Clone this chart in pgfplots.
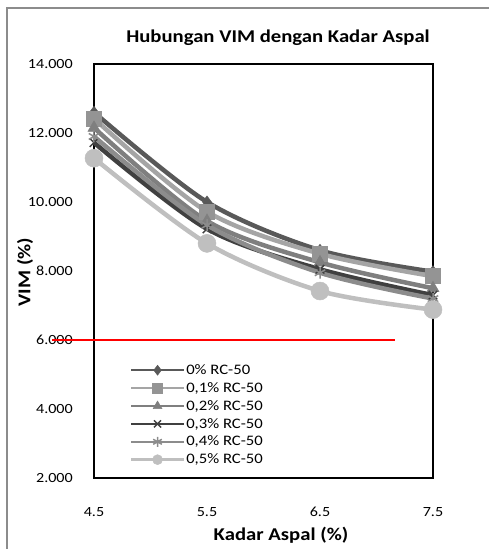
\documentclass[border=0pt]{standalone}
\usepackage{fontspec}
\setmainfont{Carlito}[FakeStretch=1.15]
\usepackage{pgfplots}
\pgfplotsset{compat=1.18}
\definecolor{bordergray}{HTML}{8C8C8C}
\definecolor{c0}{HTML}{595959}
\definecolor{c1}{HTML}{A5A5A5}
\definecolor{c2}{HTML}{7F7F7F}
\definecolor{c3}{HTML}{404040}
\definecolor{c4}{HTML}{8C8C8C}
\definecolor{c5}{HTML}{BFBFBF}
\begin{document}
\begin{tikzpicture}[x=1pt,y=1pt]
\useasboundingbox (0,0) rectangle (489,549);
\draw[color=bordergray, line width=2pt] (7,-10) -- (7,541) -- (500,541);
\node[font=\fontsize{18}{21}\selectfont\bfseries] at (278,511) {Hubungan VIM dengan Kadar Aspal};
\node[font=\fontsize{18}{21}\selectfont\bfseries] at (281,14) {Kadar Aspal (\%)};
\node[font=\fontsize{18}{21}\selectfont\bfseries, rotate=90] at (25,277) {VIM (\%)};
\begin{axis}[
  at={(94pt,71pt)}, anchor=south west,
  scale only axis, width=339pt, height=414pt,
  xmin=4.5, xmax=7.5, ymin=2, ymax=14,
  xtick={4.5,5.5,6.5,7.5}, ytick={2,4,6,8,10,12,14},
  major tick length=0pt,
  axis line style={black, line width=1.2pt},
  clip=false,
  /pgf/number format/assume math mode=true,
  tick label style={font=\fontsize{14}{17}\selectfont, inner sep=0pt},
  xticklabel style={anchor=center, yshift=-34pt, /pgf/number format/.cd, fixed, fixed zerofill, precision=1},
  yticklabel style={anchor=east, xshift=-21pt, /pgf/number format/.cd, fixed, fixed zerofill, precision=3, 1000 sep={}},
  legend style={at={(axis description cs:0.105,0.277)}, anchor=north west, draw=none, fill=none,
    font=\fontsize{14.5}{17}\selectfont, row sep=4.5pt, inner sep=0pt,
    nodes={inner sep=1pt}},
  legend cell align=left,
  legend image code/.code={\draw[#1, line width=2.5pt, mark size=5pt, mark repeat=2, mark phase=2] plot coordinates {(0pt,0pt) (26.5pt,0pt) (53pt,0pt)};},
]
\addplot[red, line width=1.2pt, forget plot] coordinates {(4.13,6) (7.16,6)};
\addplot[c0, line width=4.5pt, smooth, mark=diamond*, mark size=6pt, mark options={solid, fill=c0, line width=0.5pt}] coordinates {(4.5,12.6) (5.5,10.0) (6.5,8.6) (7.5,7.98)};
\addlegendentry{0\% RC-50}
\addplot[c1, line width=4.5pt, smooth, mark=square*, mark size=7.5pt, mark options={solid, draw=c1!90!black, fill=c1!90!black, line width=0.5pt}] coordinates {(4.5,12.42) (5.5,9.72) (6.5,8.5) (7.5,7.85)};
\addlegendentry{0,1\% RC-50}
\addplot[c2, line width=4.5pt, smooth, mark=triangle*, mark size=7pt, mark options={solid, fill=c2, line width=0.5pt}] coordinates {(4.5,12.15) (5.5,9.45) (6.5,8.25) (7.5,7.5)};
\addlegendentry{0,2\% RC-50}
\addplot[c3, line width=4.5pt, smooth, mark=x, mark size=6pt, mark options={solid, line width=1.5pt}] coordinates {(4.5,11.72) (5.5,9.22) (6.5,8.05) (7.5,7.3)};
\addlegendentry{0,3\% RC-50}
\addplot[c4, line width=4.5pt, smooth, mark=asterisk, mark size=6pt, mark options={solid, line width=1.5pt}] coordinates {(4.5,11.9) (5.5,9.33) (6.5,7.95) (7.5,7.2)};
\addlegendentry{0,4\% RC-50}
\addplot[c5, line width=4.5pt, smooth, mark=*, mark size=9pt, mark options={solid, fill=c5, line width=0.5pt}] coordinates {(4.5,11.27) (5.5,8.8) (6.5,7.42) (7.5,6.88)};
\addlegendentry{0,5\% RC-50}
\end{axis}
\end{tikzpicture}
\end{document}
